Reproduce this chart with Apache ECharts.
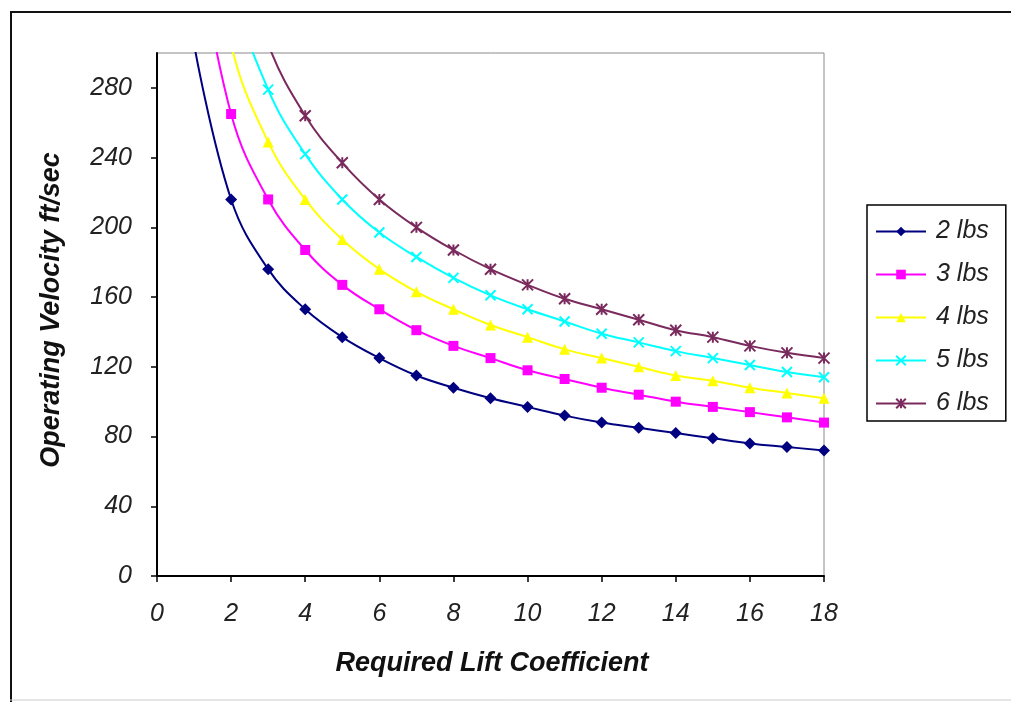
<!DOCTYPE html>
<html>
<head>
<meta charset="utf-8">
<script src="https://cdn.jsdelivr.net/npm/echarts@6/dist/echarts.min.js"></script>
<style>
html,body{margin:0;padding:0;background:#fff;}
#chart{width:1011px;height:702px;}
</style>
</head>
<body>
<div id="chart"></div>
<script>
// Required Lift Coefficient (x) and Operating Velocity ft/sec (y) per weight
const liftCoeff = [1,2,3,4,5,6,7,8,9,10,11,12,13,14,15,16,17,18];
const lbs2 = [305,216,176,153,137,125,115,108,102,97,92,88,85,82,79,76,74,72];
const lbs3 = [374,265,216,187,167,153,141,132,125,118,113,108,104,100,97,94,91,88];
const lbs4 = [432,305,249,216,193,176,163,153,144,137,130,125,120,115,112,108,105,102];
const lbs5 = [483,342,279,242,216,197,183,171,161,153,146,139,134,129,125,121,117,114];
const lbs6 = [529,374,305,264,237,216,200,187,176,167,159,153,147,141,137,132,128,125];
const seriesNames = ['2 lbs','3 lbs','4 lbs','5 lbs','6 lbs'];
const yTicks = [0,40,80,120,160,200,240,280];
const xTicks = [0,2,4,6,8,10,12,14,16,18];

const FONT = '"Liberation Sans", Arial, sans-serif';
const colors = ['#000080','#ff00ff','#ffff00','#00ffff','#7a2a5c'];
const xPath = 'path://M0,0L10,10M10,0L0,10';
const starPath = 'path://M0,0L10,10M10,0L0,10M5,0L5,10';
const symbols = ['diamond','rect','triangle',xPath,starPath];
const sizes = [12,10,11,10,11];
const allData = [lbs2,lbs3,lbs4,lbs5,lbs6];

const chart = echarts.init(document.getElementById('chart'), null, {renderer:'canvas'});
const series = allData.map((vals,i)=>({
  name: seriesNames[i],
  type: 'line',
  data: liftCoeff.map((x,j)=>[x, vals[j]]),
  smooth: 0.4,
  clip: true,
  symbol: symbols[i],
  symbolSize: sizes[i],
  showAllSymbol: true,
  lineStyle: {color: colors[i], width: 2},
  itemStyle: {color: colors[i], borderColor: colors[i], borderWidth: i>=3 ? 2 : 0},
  emphasis: {disabled: true},
  animation: false
}));

chart.setOption({
  animation: false,
  backgroundColor: '#fff',
  grid: {left:157, right:187, top:53, bottom:126, show:true, borderColor:'#8a8a8a', borderWidth:1, backgroundColor:'transparent'},
  xAxis: {
    type:'value', min:0, max:18, interval:2,
    axisLine:{show:true, onZero:false, lineStyle:{color:'#000', width:2}},
    axisTick:{show:true, length:6, lineStyle:{color:'#000', width:1.5}},
    splitLine:{show:false},
    axisLabel:{margin:26, fontFamily:FONT, fontStyle:'italic', fontSize:25, color:'#222',
      customValues: xTicks}
  },
  yAxis: {
    type:'value', min:0, max:300, interval:40,
    axisLine:{show:true, onZero:false, lineStyle:{color:'#000', width:2}},
    axisTick:{show:true, length:6, lineStyle:{color:'#000', width:1.5}, customValues: yTicks},
    splitLine:{show:false},
    axisLabel:{margin:25, fontFamily:FONT, fontStyle:'italic', fontSize:25, color:'#222',
      customValues: yTicks}
  },
  legend: {
    orient:'vertical', left:867, top:205,
    data: seriesNames,
    itemWidth:50, itemHeight:12, itemGap:18,
    padding:[14,17,5,8],
    borderColor:'#000', borderWidth:1.5, backgroundColor:'#fff',
    textStyle:{fontFamily:FONT, fontStyle:'italic', fontSize:25, color:'#222', lineHeight:24, padding:[0,0,0,5]},
    selectedMode:false
  },
  graphic: [
    {type:'line', shape:{x1:10, y1:12, x2:1011, y2:12}, style:{stroke:'#111', lineWidth:2}, z:0},
    {type:'line', shape:{x1:11, y1:12, x2:11, y2:702}, style:{stroke:'#111', lineWidth:2}, z:0},
    {type:'line', shape:{x1:10, y1:700, x2:1011, y2:700}, style:{stroke:'#ccc', lineWidth:1}, z:0},
    {type:'text', x:492, y:664, style:{text:'Required Lift Coefficient', font:'italic bold 27px "Liberation Sans", Arial, sans-serif', fill:'#111', textAlign:'center', textVerticalAlign:'middle'}},
    {type:'text', x:52, y:310, rotation:Math.PI/2, style:{text:'Operating Velocity ft/sec', font:'italic bold 27px "Liberation Sans", Arial, sans-serif', fill:'#111', textAlign:'center', textVerticalAlign:'middle'}}
  ],
  series: series
});
</script>
</body>
</html>
